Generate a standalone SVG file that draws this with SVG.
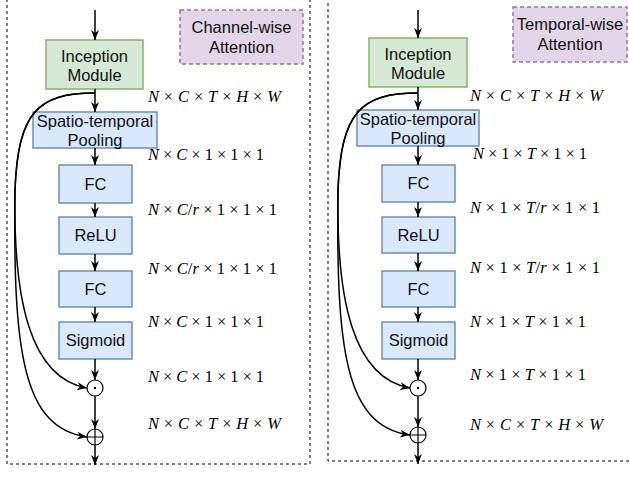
<svg xmlns="http://www.w3.org/2000/svg" width="629" height="477" viewBox="0 0 629 477">
  <style>
    .frame { fill: none; stroke: #000; stroke-width: 1; stroke-dasharray: 3 3; }
    .note { fill: #e1d5e7; stroke: #9673a6; stroke-width: 1.5; stroke-dasharray: 4 3; }
    .green { fill: #d5e8d4; stroke: #82b366; stroke-width: 1.5; }
    .blue { fill: #dae8fc; stroke: #6c8ebf; stroke-width: 1.5; }
    .lbl { font-family: "Liberation Sans", Arial, sans-serif; font-size: 16.5px; fill: #111; text-anchor: middle; }
    .m { font-family: "Liberation Serif", "Times New Roman", serif; font-size: 16.5px; fill: #000; }
    .i { font-style: italic; }
    .edge { fill: none; stroke: #000; stroke-width: 1.5; }
    .op { fill: #fff; stroke: #000; stroke-width: 1.2; }
  </style>
  <defs>
    <marker id="arr" viewBox="0 0 10 10" refX="10" refY="5" markerWidth="10" markerHeight="10" markerUnits="userSpaceOnUse" orient="auto">
      <path d="M0,1 L10,5 L0,9 L3,5 z" fill="#000"/>
    </marker>
  </defs>

  <!-- panel frames -->
  <rect class="frame" x="7" y="-10" width="303" height="474"/>
  <rect class="frame" x="328" y="-10" width="320" height="471"/>

  <!-- ===== channel-wise attention ===== -->
  <g id="cw-title"><rect class="note" x="180" y="10" width="123" height="54"/>
    <text class="lbl" x="241.5" y="33">Channel-wise</text>
    <text class="lbl" x="241.5" y="53">Attention</text></g>
  <g id="cw-inception"><rect class="green" x="46" y="40" width="97" height="49"/>
    <text class="lbl" x="94.5" y="62">Inception</text>
    <text class="lbl" x="94.5" y="81">Module</text></g>
  <g id="cw-pool"><rect class="blue" x="33" y="112" width="124" height="36"/>
    <text class="lbl" x="95" y="127">Spatio-temporal</text>
    <text class="lbl" x="95" y="146">Pooling</text></g>
  <g id="cw-fc1"><rect class="blue" x="59" y="165" width="73" height="38"/>
    <text class="lbl" x="95.5" y="190">FC</text></g>
  <g id="cw-relu"><rect class="blue" x="59" y="217" width="73" height="37"/>
    <text class="lbl" x="95.5" y="241">ReLU</text></g>
  <g id="cw-fc2"><rect class="blue" x="59" y="271" width="73" height="36"/>
    <text class="lbl" x="95.5" y="295">FC</text></g>
  <g id="cw-sigmoid"><rect class="blue" x="59" y="322" width="73" height="37"/>
    <text class="lbl" x="95.5" y="346">Sigmoid</text></g>
  <g id="cw-mul"><circle class="op" cx="95" cy="388" r="8"/><circle cx="95" cy="388" r="1.2" fill="#000"/></g>
  <g id="cw-add"><circle class="op" cx="95" cy="437" r="8"/>
    <path d="M87,437 H103 M95,429 V445" stroke="#000" stroke-width="1.2"/></g>

  <!-- ===== temporal-wise attention ===== -->
  <g id="tw-title"><rect class="note" x="513" y="7" width="114" height="55"/>
    <text class="lbl" x="570" y="30">Temporal-wise</text>
    <text class="lbl" x="570" y="50">Attention</text></g>
  <g id="tw-inception"><rect class="green" x="369" y="38" width="98" height="49"/>
    <text class="lbl" x="418" y="60">Inception</text>
    <text class="lbl" x="418" y="79">Module</text></g>
  <g id="tw-pool"><rect class="blue" x="357" y="110" width="122" height="36"/>
    <text class="lbl" x="418" y="125">Spatio-temporal</text>
    <text class="lbl" x="418" y="144">Pooling</text></g>
  <g id="tw-fc1"><rect class="blue" x="382" y="165" width="73" height="37"/>
    <text class="lbl" x="418.5" y="189">FC</text></g>
  <g id="tw-relu"><rect class="blue" x="382" y="217" width="73" height="36"/>
    <text class="lbl" x="418.5" y="241">ReLU</text></g>
  <g id="tw-fc2"><rect class="blue" x="382" y="271" width="73" height="36"/>
    <text class="lbl" x="418.5" y="295">FC</text></g>
  <g id="tw-sigmoid"><rect class="blue" x="382" y="322" width="73" height="37"/>
    <text class="lbl" x="418.5" y="346">Sigmoid</text></g>
  <g id="tw-mul"><circle class="op" cx="418" cy="388" r="8"/><circle cx="418" cy="388" r="1.2" fill="#000"/></g>
  <g id="tw-add"><circle class="op" cx="418" cy="435" r="8"/>
    <path d="M410,435 H426 M418,427 V443" stroke="#000" stroke-width="1.2"/></g>

  <!-- connectors -->
  <g id="connectors">
    <path class="edge" d="M95,10 V40" marker-end="url(#arr)"/>
    <path class="edge" d="M95,89 V112" marker-end="url(#arr)"/>
    <path class="edge" d="M95,148 V165" marker-end="url(#arr)"/>
    <path class="edge" d="M95,203 V217" marker-end="url(#arr)"/>
    <path class="edge" d="M95,254 V271" marker-end="url(#arr)"/>
    <path class="edge" d="M95,307 V322" marker-end="url(#arr)"/>
    <path class="edge" d="M95,359 V380" marker-end="url(#arr)"/>
    <path class="edge" d="M95,396 V429" marker-end="url(#arr)"/>
    <path class="edge" d="M95,445 V465" marker-end="url(#arr)"/>
    <path class="edge" d="M95,93 C38,93 18,112 15,190 C13,300 30,378 87,388" marker-end="url(#arr)"/>
    <path class="edge" d="M95,93 C38,93 18,112 15,190 C13,350 22,428 87,437" marker-end="url(#arr)"/>

    <path class="edge" d="M418,10 V38" marker-end="url(#arr)"/>
    <path class="edge" d="M418,87 V110" marker-end="url(#arr)"/>
    <path class="edge" d="M418,146 V165" marker-end="url(#arr)"/>
    <path class="edge" d="M418,202 V217" marker-end="url(#arr)"/>
    <path class="edge" d="M418,253 V271" marker-end="url(#arr)"/>
    <path class="edge" d="M418,307 V322" marker-end="url(#arr)"/>
    <path class="edge" d="M418,359 V380" marker-end="url(#arr)"/>
    <path class="edge" d="M418,396 V427" marker-end="url(#arr)"/>
    <path class="edge" d="M418,443 V464" marker-end="url(#arr)"/>
    <path class="edge" d="M418,93 C361,93 341,112 338,190 C336,300 353,378 410,388" marker-end="url(#arr)"/>
    <path class="edge" d="M418,93 C361,93 341,112 338,190 C336,350 345,426 410,435" marker-end="url(#arr)"/>
  </g>

  <!-- tensor shapes, channel-wise -->
  <g id="cw-shapes">
    <text class="m" x="148" y="102" textLength="133"><tspan class="i">N</tspan> × <tspan class="i">C</tspan> × <tspan class="i">T</tspan> × <tspan class="i">H</tspan> × <tspan class="i">W</tspan></text>
    <text class="m" x="148" y="160" textLength="116"><tspan class="i">N</tspan> × <tspan class="i">C</tspan> × 1 × 1 × 1</text>
    <text class="m" x="148" y="215" textLength="129"><tspan class="i">N</tspan> × <tspan class="i">C</tspan>/<tspan class="i">r</tspan> × 1 × 1 × 1</text>
    <text class="m" x="148" y="274" textLength="129"><tspan class="i">N</tspan> × <tspan class="i">C</tspan>/<tspan class="i">r</tspan> × 1 × 1 × 1</text>
    <text class="m" x="148" y="327" textLength="116"><tspan class="i">N</tspan> × <tspan class="i">C</tspan> × 1 × 1 × 1</text>
    <text class="m" x="148" y="382" textLength="116"><tspan class="i">N</tspan> × <tspan class="i">C</tspan> × 1 × 1 × 1</text>
    <text class="m" x="148" y="429" textLength="133"><tspan class="i">N</tspan> × <tspan class="i">C</tspan> × <tspan class="i">T</tspan> × <tspan class="i">H</tspan> × <tspan class="i">W</tspan></text>
  </g>

  <!-- tensor shapes, temporal-wise -->
  <g id="tw-shapes">
    <text class="m" x="470" y="101" textLength="133"><tspan class="i">N</tspan> × <tspan class="i">C</tspan> × <tspan class="i">T</tspan> × <tspan class="i">H</tspan> × <tspan class="i">W</tspan></text>
    <text class="m" x="473" y="159" textLength="114"><tspan class="i">N</tspan> × 1 × <tspan class="i">T</tspan> × 1 × 1</text>
    <text class="m" x="470" y="213" textLength="130"><tspan class="i">N</tspan> × 1 × <tspan class="i">T</tspan>/<tspan class="i">r</tspan> × 1 × 1</text>
    <text class="m" x="470" y="273" textLength="130"><tspan class="i">N</tspan> × 1 × <tspan class="i">T</tspan>/<tspan class="i">r</tspan> × 1 × 1</text>
    <text class="m" x="470" y="327" textLength="116"><tspan class="i">N</tspan> × 1 × <tspan class="i">T</tspan> × 1 × 1</text>
    <text class="m" x="470" y="380" textLength="116"><tspan class="i">N</tspan> × 1 × <tspan class="i">T</tspan> × 1 × 1</text>
    <text class="m" x="470" y="430" textLength="133"><tspan class="i">N</tspan> × <tspan class="i">C</tspan> × <tspan class="i">T</tspan> × <tspan class="i">H</tspan> × <tspan class="i">W</tspan></text>
  </g>
</svg>
